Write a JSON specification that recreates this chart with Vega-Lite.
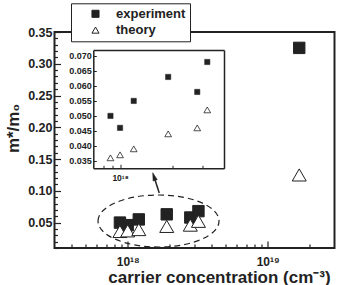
{
  "$schema": "https://vega.github.io/schema/vega-lite/v6.json",
  "width": 280,
  "height": 216,
  "autosize": {"type": "none"},
  "padding": {"left": 54.5, "top": 32, "right": 3.5, "bottom": 37},
  "config": {
    "view": {"stroke": "#222", "strokeWidth": 2},
    "font": "Liberation Sans",
    "axis": {"grid": false, "labelFont": "Liberation Sans", "labelFontWeight": "bold", "labelColor": "#222", "tickColor": "#222", "titleFont": "Liberation Sans", "titleColor": "#222", "labelOverlap": false, "labelFlush": false}
  },
  "datasets": {
    "pts": [
      {"n": 8.8e17, "m": 0.050, "series": "experiment"},
      {"n": 1.0e18, "m": 0.046, "series": "experiment"},
      {"n": 1.2e18, "m": 0.055, "series": "experiment"},
      {"n": 1.9e18, "m": 0.063, "series": "experiment"},
      {"n": 2.8e18, "m": 0.058, "series": "experiment"},
      {"n": 3.2e18, "m": 0.068, "series": "experiment"},
      {"n": 1.68e19, "m": 0.325, "series": "experiment"},
      {"n": 8.8e17, "m": 0.036, "series": "theory"},
      {"n": 1.0e18, "m": 0.037, "series": "theory"},
      {"n": 1.2e18, "m": 0.039, "series": "theory"},
      {"n": 1.9e18, "m": 0.044, "series": "theory"},
      {"n": 2.8e18, "m": 0.046, "series": "theory"},
      {"n": 3.2e18, "m": 0.052, "series": "theory"},
      {"n": 1.68e19, "m": 0.125, "series": "theory"}
    ],
    "ellipse": [{"n": 1.66e18, "m": 0.0525}],
    "arrow": [{"n": 1.68e18, "m": 0.0966, "n2": 1.54e18, "m2": 0.1225}]
  },
  "layer": [
    {
      "encoding": {
        "x": {"field": "n", "type": "quantitative",
          "scale": {"type": "log", "domain": [3e17, 3e19], "nice": false},
          "axis": {"orient": "bottom", "domain": false,
            "values": [4e17, 5e17, 6e17, 7e17, 8e17, 9e17, 1e18, 2e18, 3e18, 4e18, 5e18, 6e18, 7e18, 8e18, 9e18, 1e19, 2e19],
            "labelExpr": "datum.value == 1e18 ? '10¹⁸' : (datum.value == 1e19 ? '10¹⁹' : '')",
            "tickSize": {"condition": {"test": "datum.value == 1e18 || datum.value == 1e19", "value": -7}, "value": -4},
            "tickWidth": 1.2,
            "labelPadding": 15, "labelFontSize": 12,
            "title": "carrier concentration (cm⁻³)", "titleFontSize": 17, "titleFontWeight": "bold",
            "titleX": 164.5, "titleY": 34, "titleBaseline": "alphabetic"}},
        "y": {"field": "m", "type": "quantitative",
          "scale": {"domain": [0.01, 0.35], "nice": false, "zero": false},
          "axis": {"orient": "left", "domain": false,
            "values": [0.01, 0.02, 0.03, 0.04, 0.05, 0.06, 0.07, 0.08, 0.09, 0.1, 0.11, 0.12, 0.13, 0.14, 0.15, 0.16, 0.17, 0.18, 0.19, 0.2, 0.21, 0.22, 0.23, 0.24, 0.25, 0.26, 0.27, 0.28, 0.29, 0.3, 0.31, 0.32, 0.33, 0.34, 0.35],
            "labelExpr": "abs(datum.value*20 - round(datum.value*20)) < 1e-6 ? format(datum.value, '.2f') : ''",
            "tickSize": {"condition": {"test": "abs(datum.value*20 - round(datum.value*20)) < 1e-6", "value": -6}, "value": -3},
            "tickWidth": 1.2,
            "labelPadding": 8.5, "labelFontSize": 12.5,
            "title": "m*/m₀", "titleFontSize": 17, "titleFontWeight": "bold",
            "titleX": -36.5, "titleY": 96, "titleBaseline": "alphabetic", "titleAlign": "center", "titleAngle": -90}}
      },
      "layer": [
        {
          "data": {"name": "pts"},
          "transform": [{"filter": "datum.series == 'experiment'"}],
          "mark": {"type": "point", "filled": true, "opacity": 1, "strokeWidth": 1, "size": 130},
          "encoding": {
            "shape": {"field": "series", "type": "nominal",
              "scale": {"domain": ["experiment", "theory"], "range": ["square", "triangle-up"]},
              "legend": {"title": null, "orient": "none", "legendX": 16.5, "legendY": -28.7, "direction": "vertical",
                "strokeColor": "#222", "fillColor": "white", "padding": 4,
                "symbolOffset": 14, "symbolSize": 50, "symbolStrokeWidth": 1,
                "labelFont": "Liberation Sans", "labelFontSize": 13, "labelFontWeight": "bold", "labelColor": "#222",
                "labelOffset": 14, "rowPadding": 2.3, "labelLimit": 200}},
            "fill": {"field": "series", "type": "nominal",
              "scale": {"domain": ["experiment", "theory"], "range": ["#222", "white"]},
              "legend": {"title": null, "orient": "none", "legendX": 16.5, "legendY": -28.7, "direction": "vertical",
                "strokeColor": "#222", "fillColor": "white", "padding": 4,
                "symbolOffset": 14, "symbolSize": 50, "symbolStrokeWidth": 1,
                "labelFont": "Liberation Sans", "labelFontSize": 13, "labelFontWeight": "bold", "labelColor": "#222",
                "labelOffset": 14, "rowPadding": 2.3, "labelLimit": 200}},
            "stroke": {"field": "series", "type": "nominal",
              "scale": {"domain": ["experiment", "theory"], "range": ["#222", "#222"]},
              "legend": {"title": null, "orient": "none", "legendX": 16.5, "legendY": -28.7, "direction": "vertical",
                "strokeColor": "#222", "fillColor": "white", "padding": 4,
                "symbolOffset": 14, "symbolSize": 50, "symbolStrokeWidth": 1,
                "labelFont": "Liberation Sans", "labelFontSize": 13, "labelFontWeight": "bold", "labelColor": "#222",
                "labelOffset": 14, "rowPadding": 2.3, "labelLimit": 200}}
          }
        },
        {
          "data": {"name": "pts"},
          "transform": [{"filter": "datum.series == 'theory'"}],
          "mark": {"type": "point", "filled": true, "opacity": 1, "strokeWidth": 1, "size": 196},
          "encoding": {
            "shape": {"field": "series", "type": "nominal",
              "scale": {"domain": ["experiment", "theory"], "range": ["square", "triangle-up"]}},
            "fill": {"field": "series", "type": "nominal",
              "scale": {"domain": ["experiment", "theory"], "range": ["#222", "white"]}},
            "stroke": {"field": "series", "type": "nominal",
              "scale": {"domain": ["experiment", "theory"], "range": ["#222", "#222"]}}
          }
        },
        {
          "data": {"name": "ellipse"},
          "mark": {"type": "point", "filled": false, "opacity": 1, "stroke": "#222", "strokeWidth": 1.2, "strokeDash": [6, 4],
            "size": 14641,
            "shape": "M-1,0 C-1,-0.2375 -0.5523,-0.43 0,-0.43 C0.5523,-0.43 1,-0.2375 1,0 C1,0.2375 0.5523,0.43 0,0.43 C-0.5523,0.43 -1,0.2375 -1,0 Z"}
        },
        {
          "data": {"name": "arrow"},
          "mark": {"type": "rule", "stroke": "#222", "strokeWidth": 1.5},
          "encoding": {"x2": {"field": "n2"}, "y2": {"field": "m2"}}
        },
        {
          "data": {"name": "arrow"},
          "mark": {"type": "point", "filled": true, "opacity": 1, "fill": "#222", "stroke": "#222", "strokeWidth": 0.5,
            "size": 64, "angle": -18, "shape": "M0,-1 L-0.55,1 L0.55,1 Z"},
          "encoding": {"x": {"field": "n2", "type": "quantitative"}, "y": {"field": "m2", "type": "quantitative"}}
        }
      ]
    },
    {
      "data": {"name": "pts"},
      "transform": [{"filter": "datum.n < 1e19"}],
      "encoding": {
        "x": {"field": "n", "type": "quantitative",
          "scale": {"type": "log", "domain": [7e17, 4e18], "range": [38.8, 169.5], "nice": false},
          "axis": {"orient": "bottom", "offset": -79.7, "domainColor": "#222", "domainWidth": 1.5,
            "values": [8e17, 9e17, 1e18, 2e18, 3e18],
            "labelExpr": "datum.value == 1e18 ? '10¹⁸' : ''",
            "tickSize": {"condition": {"test": "datum.value == 1e18", "value": -4}, "value": -3},
            "labelPadding": 9, "labelFontSize": 8.5, "title": null}},
        "y": {"field": "m", "type": "quantitative",
          "scale": {"domain": [0.0325, 0.072], "range": [136.3, 18], "nice": false, "zero": false},
          "axis": {"orient": "left", "offset": -38.8, "domainColor": "#222", "domainWidth": 1.5,
            "values": [0.035, 0.04, 0.045, 0.05, 0.055, 0.06, 0.065, 0.07],
            "format": ".3f", "tickSize": -3,
            "labelPadding": 5, "labelFontSize": 9, "title": null}}
      },
      "layer": [
        {
          "transform": [{"filter": "datum.series == 'experiment'"}],
          "mark": {"type": "point", "shape": "square", "filled": true, "opacity": 1, "fill": "#222", "stroke": "#222", "strokeWidth": 0.5, "size": 28}
        },
        {
          "transform": [{"filter": "datum.series == 'theory'"}],
          "mark": {"type": "point", "shape": "triangle-up", "filled": true, "opacity": 1, "fill": "white", "stroke": "#222", "strokeWidth": 0.8, "size": 45}
        }
      ]
    },
    {
      "data": {"name": "pts"},
      "transform": [{"filter": "datum.n < 1e19"}],
      "mark": {"type": "point", "opacity": 0},
      "encoding": {
        "x": {"field": "n", "type": "quantitative",
          "scale": {"type": "log", "domain": [7e17, 4e18], "range": [38.8, 169.5], "nice": false},
          "axis": {"orient": "top", "offset": -18, "domainColor": "#222", "domainWidth": 1.5, "ticks": false, "labels": false, "title": null}},
        "y": {"field": "m", "type": "quantitative",
          "scale": {"domain": [0.0325, 0.072], "range": [136.3, 18], "nice": false, "zero": false},
          "axis": {"orient": "right", "offset": -110.5, "domainColor": "#222", "domainWidth": 1.5, "ticks": false, "labels": false, "title": null}}
      }
    }
  ],
  "resolve": {"scale": {"x": "independent", "y": "independent"}, "axis": {"x": "independent", "y": "independent"}}
}
